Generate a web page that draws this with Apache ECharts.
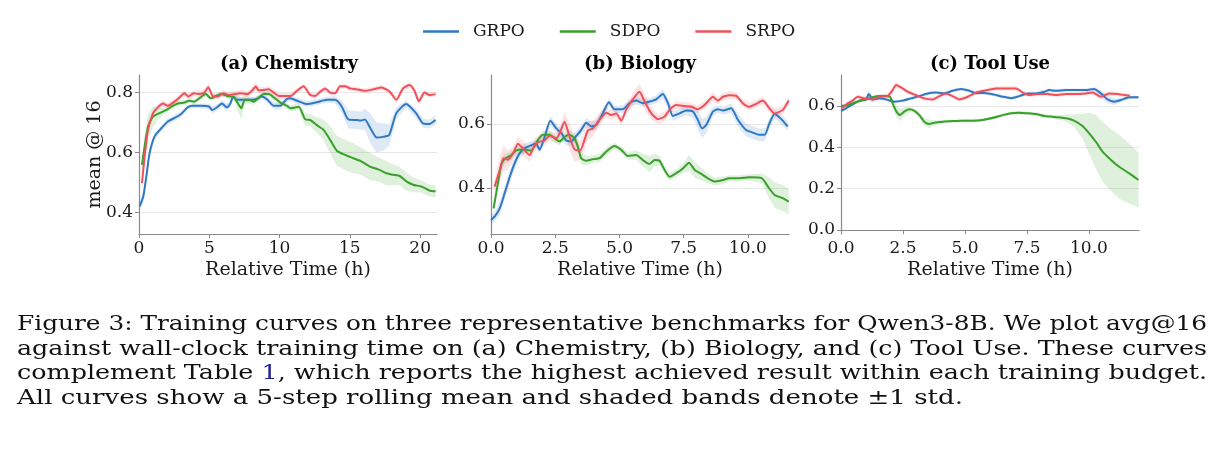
<!DOCTYPE html>
<html>
<head>
<meta charset="utf-8">
<script src="https://cdn.jsdelivr.net/npm/echarts@6/dist/echarts.min.js"></script>
<style>
  html, body { margin: 0; padding: 0; background: #ffffff; }
  #main { width: 1226px; height: 463px; }
</style>
</head>
<body>
<div id="main"></div>
<script>
// each row: [relative time (h), rolling mean, std]
const chemistryGRPO = [[0.05,0.422,0.015],[0.3,0.453,0.02],[0.52,0.52,0.02],[0.75,0.597,0.015],[1.1,0.653,0.012],[1.58,0.68,0.01],[2.05,0.703,0.01],[2.5,0.714,0.01],[3.0,0.728,0.01],[3.46,0.75,0.008],[3.8,0.755,0.008],[4.4,0.755,0.008],[5.0,0.752,0.01],[5.2,0.741,0.012],[5.6,0.752,0.01],[5.9,0.763,0.01],[6.25,0.75,0.012],[6.5,0.763,0.01],[6.7,0.786,0.01],[7.0,0.775,0.01],[7.5,0.775,0.008],[7.9,0.775,0.008],[8.3,0.777,0.008],[8.75,0.786,0.008],[9.1,0.777,0.01],[9.6,0.755,0.012],[10.05,0.755,0.012],[10.5,0.777,0.01],[10.77,0.78,0.01],[11.24,0.772,0.01],[11.95,0.761,0.01],[12.65,0.767,0.01],[13.36,0.775,0.01],[13.95,0.775,0.012],[14.42,0.753,0.02],[14.89,0.71,0.03],[15.48,0.708,0.03],[15.8,0.706,0.03],[16.07,0.71,0.035],[16.47,0.68,0.05],[16.9,0.65,0.05],[17.37,0.652,0.045],[17.8,0.658,0.035],[18.3,0.73,0.02],[19.0,0.761,0.012],[19.72,0.73,0.015],[20.2,0.697,0.015],[20.66,0.695,0.015],[21.1,0.708,0.015]];
const chemistrySDPO = [[0.21,0.559,0.02],[0.4,0.62,0.04],[0.64,0.686,0.04],[0.99,0.719,0.035],[1.34,0.728,0.02],[1.7,0.736,0.012],[2.05,0.744,0.01],[2.4,0.755,0.01],[2.76,0.763,0.01],[3.23,0.766,0.008],[3.58,0.772,0.008],[3.93,0.769,0.008],[4.29,0.78,0.008],[4.76,0.794,0.008],[5.11,0.78,0.008],[5.47,0.788,0.008],[5.82,0.794,0.008],[6.29,0.788,0.008],[6.76,0.783,0.012],[7.04,0.763,0.025],[7.28,0.747,0.035],[7.52,0.775,0.015],[7.82,0.775,0.012],[8.18,0.769,0.012],[8.53,0.783,0.01],[8.88,0.794,0.008],[9.24,0.794,0.008],[9.59,0.783,0.01],[10.06,0.766,0.01],[10.53,0.755,0.01],[10.77,0.747,0.01],[11.36,0.752,0.012],[11.83,0.71,0.02],[12.18,0.708,0.02],[12.65,0.691,0.025],[13.13,0.675,0.035],[13.6,0.642,0.045],[14.07,0.606,0.05],[14.66,0.592,0.05],[15.25,0.581,0.05],[15.84,0.57,0.045],[16.43,0.553,0.045],[17.02,0.544,0.04],[17.61,0.531,0.04],[18.08,0.526,0.035],[18.55,0.522,0.03],[19.02,0.504,0.03],[19.5,0.493,0.025],[20.08,0.487,0.02],[20.66,0.474,0.02],[21.1,0.471,0.02]];
const chemistrySRPO = [[0.21,0.498,0.02],[0.4,0.586,0.02],[0.64,0.675,0.015],[0.99,0.73,0.012],[1.34,0.75,0.01],[1.7,0.763,0.01],[2.05,0.755,0.01],[2.52,0.769,0.01],[2.88,0.783,0.01],[3.23,0.797,0.01],[3.51,0.786,0.01],[3.89,0.797,0.01],[4.22,0.794,0.01],[4.64,0.799,0.01],[4.93,0.817,0.012],[5.23,0.788,0.01],[5.59,0.786,0.01],[6.01,0.797,0.01],[6.41,0.791,0.01],[6.76,0.794,0.01],[7.23,0.797,0.01],[7.7,0.794,0.01],[8.06,0.806,0.012],[8.3,0.819,0.015],[8.53,0.806,0.012],[8.88,0.808,0.01],[9.24,0.81,0.01],[9.59,0.799,0.01],[9.95,0.788,0.01],[10.5,0.788,0.01],[10.77,0.788,0.008],[11.24,0.805,0.008],[11.71,0.82,0.008],[12.18,0.791,0.008],[12.53,0.788,0.008],[12.89,0.802,0.008],[13.24,0.813,0.008],[13.6,0.799,0.008],[13.95,0.797,0.008],[14.3,0.82,0.008],[14.66,0.82,0.008],[15.01,0.813,0.008],[15.48,0.81,0.008],[16.07,0.805,0.008],[16.66,0.81,0.008],[17.25,0.816,0.008],[17.84,0.802,0.008],[18.31,0.775,0.01],[18.78,0.813,0.01],[19.25,0.824,0.01],[19.6,0.805,0.01],[19.91,0.77,0.012],[20.31,0.799,0.01],[20.66,0.791,0.008],[21.1,0.794,0.008]];

const biologyGRPO = [[0,0.3,0.015],[0.14,0.31,0.015],[0.34,0.336,0.02],[0.53,0.383,0.02],[0.73,0.435,0.02],[0.92,0.477,0.02],[1.11,0.508,0.015],[1.31,0.524,0.015],[1.57,0.534,0.012],[1.76,0.538,0.012],[1.89,0.519,0.012],[2.09,0.56,0.015],[2.31,0.61,0.015],[2.54,0.586,0.015],[2.74,0.571,0.015],[2.93,0.548,0.015],[3.12,0.545,0.015],[3.29,0.56,0.015],[3.51,0.581,0.015],[3.71,0.604,0.015],[3.9,0.592,0.015],[4.1,0.597,0.015],[4.35,0.633,0.015],[4.59,0.668,0.012],[4.81,0.646,0.012],[5.13,0.646,0.012],[5.39,0.665,0.012],[5.65,0.673,0.012],[5.91,0.665,0.012],[6.17,0.67,0.012],[6.43,0.677,0.012],[6.69,0.694,0.015],[6.89,0.665,0.015],[7.08,0.625,0.015],[7.34,0.633,0.015],[7.6,0.642,0.015],[7.86,0.639,0.02],[8.05,0.613,0.03],[8.22,0.586,0.03],[8.38,0.597,0.025],[8.64,0.639,0.015],[8.83,0.646,0.012],[9.03,0.642,0.012],[9.35,0.649,0.015],[9.61,0.613,0.02],[9.93,0.581,0.02],[10.19,0.573,0.02],[10.45,0.566,0.02],[10.65,0.566,0.02],[10.84,0.602,0.015],[11.04,0.631,0.015],[11.3,0.615,0.015],[11.55,0.592,0.015]];
const biologySDPO = [[0.1,0.336,0.02],[0.27,0.415,0.02],[0.4,0.472,0.02],[0.53,0.49,0.015],[0.79,0.503,0.012],[1.05,0.519,0.012],[1.31,0.519,0.012],[1.57,0.517,0.012],[1.83,0.55,0.012],[2.02,0.566,0.012],[2.28,0.566,0.012],[2.48,0.555,0.012],[2.67,0.545,0.012],[2.87,0.56,0.012],[3.06,0.566,0.012],[3.25,0.555,0.015],[3.38,0.529,0.02],[3.51,0.493,0.02],[3.71,0.485,0.015],[3.97,0.49,0.012],[4.23,0.493,0.012],[4.49,0.514,0.012],[4.81,0.531,0.01],[5.07,0.519,0.01],[5.33,0.5,0.012],[5.65,0.503,0.015],[5.91,0.487,0.02],[6.17,0.475,0.025],[6.37,0.487,0.02],[6.56,0.485,0.015],[6.76,0.456,0.012],[6.95,0.435,0.012],[7.21,0.446,0.012],[7.47,0.461,0.015],[7.71,0.479,0.025],[7.93,0.456,0.025],[8.18,0.444,0.02],[8.44,0.43,0.015],[8.7,0.42,0.012],[8.96,0.423,0.012],[9.29,0.43,0.01],[9.68,0.43,0.01],[10.06,0.433,0.01],[10.55,0.43,0.015],[10.78,0.404,0.03],[11.04,0.378,0.04],[11.36,0.368,0.04],[11.59,0.357,0.04]];
const biologySRPO = [[0.14,0.404,0.02],[0.34,0.456,0.04],[0.49,0.493,0.04],[0.66,0.488,0.03],[0.86,0.508,0.02],[1.05,0.538,0.02],[1.24,0.524,0.025],[1.5,0.503,0.02],[1.7,0.534,0.02],[1.89,0.545,0.02],[2.09,0.548,0.015],[2.28,0.563,0.015],[2.54,0.555,0.015],[2.7,0.576,0.02],[2.86,0.607,0.03],[3.06,0.56,0.04],[3.25,0.521,0.04],[3.47,0.517,0.03],[3.64,0.55,0.03],[3.77,0.579,0.03],[3.97,0.586,0.025],[4.16,0.607,0.02],[4.35,0.625,0.02],[4.49,0.635,0.015],[4.68,0.628,0.015],[4.88,0.633,0.015],[5.07,0.61,0.015],[5.26,0.644,0.015],[5.52,0.677,0.02],[5.78,0.701,0.025],[5.98,0.67,0.025],[6.24,0.633,0.02],[6.5,0.615,0.015],[6.76,0.623,0.015],[6.95,0.644,0.012],[7.21,0.659,0.012],[7.54,0.656,0.012],[7.8,0.654,0.012],[8.05,0.646,0.012],[8.31,0.659,0.012],[8.64,0.685,0.015],[8.83,0.673,0.012],[9.03,0.685,0.012],[9.29,0.69,0.012],[9.55,0.688,0.012],[9.8,0.665,0.012],[10.06,0.654,0.012],[10.32,0.663,0.012],[10.58,0.673,0.012],[10.81,0.652,0.012],[11.04,0.633,0.015],[11.36,0.644,0.012],[11.59,0.673,0.012]];

const toolUseGRPO = [[0,0.577,0.008],[0.2,0.589,0.008],[0.47,0.608,0.008],[0.74,0.626,0.008],[1.01,0.632,0.01],[1.12,0.658,0.02],[1.28,0.632,0.015],[1.55,0.637,0.01],[1.81,0.632,0.008],[2.15,0.621,0.008],[2.49,0.626,0.008],[2.82,0.637,0.008],[3.16,0.648,0.008],[3.49,0.661,0.008],[3.83,0.665,0.008],[4.17,0.661,0.008],[4.5,0.674,0.008],[4.84,0.682,0.008],[5.17,0.674,0.008],[5.44,0.662,0.008],[5.78,0.663,0.008],[6.18,0.655,0.008],[6.52,0.645,0.008],[6.86,0.638,0.008],[7.19,0.648,0.008],[7.53,0.661,0.008],[7.86,0.661,0.008],[8.2,0.669,0.008],[8.4,0.677,0.008],[8.67,0.674,0.008],[9.07,0.677,0.008],[9.48,0.677,0.008],[9.88,0.677,0.008],[10.21,0.682,0.01],[10.48,0.661,0.015],[10.75,0.632,0.02],[11.02,0.621,0.015],[11.29,0.629,0.01],[11.63,0.642,0.008],[12.0,0.642,0.008]];
const toolUseSDPO = [[0,0.6,0.008],[0.27,0.605,0.008],[0.54,0.616,0.008],[0.81,0.626,0.008],[1.14,0.637,0.008],[1.48,0.648,0.008],[1.81,0.648,0.008],[1.98,0.645,0.01],[2.08,0.613,0.02],[2.24,0.573,0.03],[2.38,0.556,0.03],[2.55,0.573,0.02],[2.76,0.584,0.012],[2.96,0.577,0.01],[3.16,0.556,0.012],[3.36,0.524,0.02],[3.56,0.513,0.02],[3.76,0.519,0.012],[4.1,0.524,0.008],[4.5,0.527,0.008],[4.9,0.529,0.008],[5.31,0.529,0.008],[5.71,0.532,0.008],[6.18,0.544,0.008],[6.52,0.556,0.008],[6.86,0.565,0.008],[7.19,0.568,0.008],[7.53,0.565,0.008],[7.86,0.561,0.008],[8.2,0.552,0.008],[8.53,0.548,0.01],[8.87,0.544,0.012],[9.14,0.54,0.02],[9.4,0.529,0.03],[9.74,0.503,0.06],[10.01,0.468,0.1],[10.28,0.427,0.13],[10.55,0.379,0.145],[10.89,0.339,0.15],[11.22,0.306,0.155],[11.63,0.274,0.145],[12.0,0.242,0.133]];
const toolUseSRPO = [[0.04,0.589,0.01],[0.27,0.613,0.01],[0.47,0.626,0.01],[0.67,0.645,0.01],[0.94,0.637,0.01],[1.28,0.632,0.01],[1.55,0.645,0.01],[1.88,0.648,0.012],[2.08,0.677,0.015],[2.22,0.702,0.015],[2.42,0.69,0.012],[2.69,0.669,0.01],[3.02,0.653,0.01],[3.36,0.637,0.01],[3.7,0.632,0.01],[3.97,0.648,0.01],[4.23,0.661,0.01],[4.5,0.648,0.01],[4.77,0.632,0.01],[5.11,0.645,0.01],[5.44,0.665,0.01],[5.78,0.674,0.01],[6.25,0.685,0.01],[6.65,0.685,0.01],[7.06,0.685,0.01],[7.33,0.665,0.01],[7.6,0.653,0.01],[7.93,0.658,0.01],[8.33,0.658,0.01],[8.67,0.653,0.01],[9.07,0.658,0.01],[9.48,0.658,0.01],[9.88,0.661,0.01],[10.15,0.665,0.01],[10.48,0.645,0.012],[10.82,0.661,0.01],[11.16,0.658,0.01],[11.42,0.653,0.01],[11.65,0.65,0.01]];

const methodNames = ['GRPO', 'SDPO', 'SRPO'];
const panelTitles = ['(a) Chemistry', '(b) Biology', '(c) Tool Use'];
const chemistryXTicks = [0, 5, 10, 15, 20];
const biologyXTicks = [0, 2.5, 5, 7.5, 10];
const toolUseXTicks = [0, 2.5, 5, 7.5, 10];
const chemistryYTicks = [0.4, 0.6, 0.8];
const biologyYTicks = [0.4, 0.6];
const toolUseYTicks = [0.0, 0.2, 0.4, 0.6];
const chemistryXRange = [0, 21.2];
const biologyXRange = [0, 11.6];
const toolUseXRange = [0, 12.02];
const chemistryYRange = [0.3293, 0.8575];
const biologyYRange = [0.256, 0.753];
const toolUseYRange = [-0.019, 0.75];

const captionLines = [
  'Figure 3: Training curves on three representative benchmarks for Qwen3-8B. We plot avg@16',
  'against wall-clock training time on (a) Chemistry, (b) Biology, and (c) Tool Use. These curves',
  'complement Table 1, which reports the highest achieved result within each training budget.',
  'All curves show a 5-step rolling mean and shaded bands denote \u00b11 std.'
];

const lineColors = ['#2f78c4', '#3aa02c', '#f0505a'];
const bandColors = ['rgba(47,120,196,0.16)', 'rgba(58,160,44,0.16)', 'rgba(240,80,90,0.16)'];
const serif = '"DejaVu Serif", serif';
const inkColor = '#1a1a1a';
const spineColor = '#8a8a8a';

const panels = [
  { title: panelTitles[0], rows: [chemistryGRPO, chemistrySDPO, chemistrySRPO], xTicks: chemistryXTicks, yTicks: chemistryYTicks,
    xRange: chemistryXRange, yRange: chemistryYRange, left: 139, digits: 0, titleX: 289 },
  { title: panelTitles[1], rows: [biologyGRPO, biologySDPO, biologySRPO], xTicks: biologyXTicks, yTicks: biologyYTicks,
    xRange: biologyXRange, yRange: biologyYRange, left: 491, digits: 1, titleX: 640 },
  { title: panelTitles[2], rows: [toolUseGRPO, toolUseSDPO, toolUseSRPO], xTicks: toolUseXTicks, yTicks: toolUseYTicks,
    xRange: toolUseXRange, yRange: toolUseYRange, left: 841, digits: 1, titleX: 990 }
];

const chart = echarts.init(document.getElementById('main'), null, { renderer: 'canvas' });

const grids = [], xAxes = [], yAxes = [], series = [], graphics = [];

// ±1 std band as one polygon, placed through the axis scales
function bandSeries(rows, color, idx, name) {
  return {
    type: 'custom',
    name: name,
    xAxisIndex: idx,
    yAxisIndex: idx,
    silent: true,
    z: 1,
    data: [[rows[0][0], rows[0][1]]],
    renderItem: function (params, api) {
      const upper = rows.map(r => api.coord([r[0], r[1] + r[2]]));
      const lower = rows.slice().reverse().map(r => api.coord([r[0], r[1] - r[2]]));
      return {
        type: 'polygon',
        shape: { points: upper.concat(lower) },
        style: { fill: color, stroke: null }
      };
    }
  };
}

panels.forEach(function (p, i) {
  grids.push({ left: p.left, top: 75, width: 298, height: 159, containLabel: false, outerBoundsMode: 'none' });
  xAxes.push({
    type: 'value',
    gridIndex: i,
    min: p.xRange[0],
    max: p.xRange[1],
    name: 'Relative Time (h)',
    nameLocation: 'middle',
    nameGap: 27,
    nameMoveOverlap: false,
    nameTextStyle: { fontFamily: serif, fontSize: 19, color: inkColor },
    axisLine: { show: true, lineStyle: { color: spineColor, width: 1.2 } },
    axisTick: { show: true, inside: false, length: 4, customValues: p.xTicks, lineStyle: { color: spineColor, width: 1 } },
    axisLabel: {
      customValues: p.xTicks, margin: 6, fontFamily: serif, fontSize: 17, color: inkColor,
      formatter: function (v) { return Number(v).toFixed(p.digits); }
    },
    splitLine: { show: false }
  });
  yAxes.push({
    type: 'value',
    gridIndex: i,
    min: p.yRange[0],
    max: p.yRange[1],
    name: i === 0 ? 'mean @ 16' : '',
    nameLocation: 'middle',
    nameRotate: 90,
    nameGap: 34,
    nameMoveOverlap: false,
    nameTextStyle: { fontFamily: serif, fontSize: 19, color: inkColor },
    axisLine: { show: true, lineStyle: { color: spineColor, width: 1.2 } },
    axisTick: { show: true, inside: false, length: 4, customValues: p.yTicks, lineStyle: { color: spineColor, width: 1 } },
    axisLabel: {
      customValues: p.yTicks, margin: 6, fontFamily: serif, fontSize: 17, color: inkColor,
      formatter: function (v) { return Number(v).toFixed(1); }
    },
    splitLine: { show: true, lineStyle: { color: '#e8e8e8', width: 1 } }
  });
  p.rows.forEach(function (rows, k) {
    series.push(bandSeries(rows, bandColors[k], i, methodNames[k] + ' band'));
  });
  p.rows.forEach(function (rows, k) {
    series.push({
      type: 'line',
      name: methodNames[k],
      xAxisIndex: i,
      yAxisIndex: i,
      data: rows.map(r => [r[0], r[1]]),
      showSymbol: false,
      symbol: 'none',
      smooth: 0.2,
      z: 2 + k,
      color: lineColors[k],
      lineStyle: { color: lineColors[k], width: 2 },
      emphasis: { disabled: true }
    });
  });
  graphics.push({
    type: 'text', x: p.titleX, y: 64, silent: true,
    style: { text: p.title, font: 'bold 18px ' + serif, fill: '#000000', align: 'center', verticalAlign: 'middle' }
  });
});

// caption, stretched to the justified line widths of the reference
const captionFont = '21px ' + serif;
const captionWidths = [1190, 1190, 1190, 946];
const captionCenters = [325, 349.4, 373.8, 398.2];
const measure = document.createElement('canvas').getContext('2d');
measure.font = captionFont;
captionLines.forEach(function (line, i) {
  const w = measure.measureText(line).width;
  const sx = captionWidths[i] / w;
  let text = line;
  let rich;
  if (i === 2) {
    const at = line.indexOf('Table 1') + 6;
    text = '{n|' + line.slice(0, at) + '}{b|1}{n|' + line.slice(at + 1) + '}';
    rich = { n: { font: captionFont, fill: '#111111' }, b: { font: captionFont, fill: '#1f1f99' } };
  }
  graphics.push({
    type: 'text', x: 17, y: captionCenters[i], scaleX: sx, silent: true,
    style: { text: text, rich: rich, font: captionFont, fill: '#111111', align: 'left', verticalAlign: 'middle' }
  });
});

chart.setOption({
  backgroundColor: '#ffffff',
  animation: false,
  legend: {
    data: methodNames,
    left: 423,
    top: 23,
    padding: 0,
    icon: 'rect',
    itemWidth: 36,
    itemHeight: 2.5,
    itemGap: 35,
    selectedMode: false,
    textStyle: { fontFamily: serif, fontSize: 17, color: inkColor, padding: [0, 0, 0, 9] }
  },
  grid: grids,
  xAxis: xAxes,
  yAxis: yAxes,
  series: series,
  graphic: graphics
});
</script>
</body>
</html>
